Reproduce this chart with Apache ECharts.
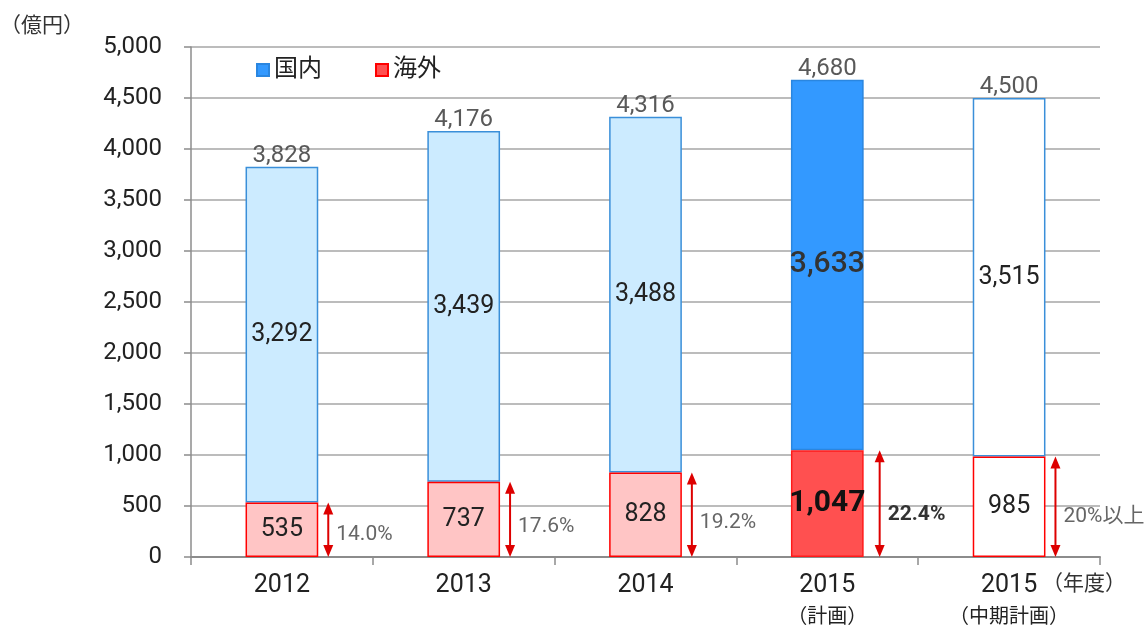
<!DOCTYPE html>
<html><head><meta charset="utf-8">
<script src="https://cdn.jsdelivr.net/npm/echarts@6/dist/echarts.min.js"></script>
<style>html,body{margin:0;padding:0;background:#fff}#c{width:1148px;height:627px}</style>
</head><body><div id="c"></div>
<script>
const years = ['2012', '2013', '2014', '2015', '2015'];
const subLabels = ['', '', '', '（計画）', '（中期計画）'];
const domestic = [3292, 3439, 3488, 3633, 3515];
const overseas = [535, 737, 828, 1047, 985];
const totals = [3828, 4176, 4316, 4680, 4500];
const shareLabels = ['14.0%', '17.6%', '19.2%', '22.4%', '20%以上'];
const yTicks = [0, 500, 1000, 1500, 2000, 2500, 3000, 3500, 4000, 4500, 5000];

const FONT = 'Roboto, "Noto Sans CJK JP", sans-serif';
const categories = years.map((y, i) => y + (subLabels[i] ? '\n' + subLabels[i] : ''));
const fmt = v => Number(v).toLocaleString('en-US');

const domStyles = [
  {color: '#CCEBFF', borderColor: '#3A8FD9'},
  {color: '#CCEBFF', borderColor: '#3A8FD9'},
  {color: '#CCEBFF', borderColor: '#3A8FD9'},
  {color: '#3399FF', borderColor: '#2A86E0'},
  {color: '#FFFFFF', borderColor: '#3A8FD9'}
];
const ovsStyles = [
  {color: '#FFC5C5', borderColor: '#FF0000'},
  {color: '#FFC5C5', borderColor: '#FF0000'},
  {color: '#FFC5C5', borderColor: '#FF0000'},
  {color: '#FF5050', borderColor: '#FF1A1A'},
  {color: '#FFFFFF', borderColor: '#FF0000'}
];

const chart = echarts.init(document.getElementById('c'), null, {renderer: 'canvas'});
const ARROW = '#DD0000';

chart.setOption({
  animation: false,
  textStyle: {fontFamily: FONT},
  grid: {left: 191, right: 48, top: 47, bottom: 70, containLabel: false, outerBoundsMode: 'none'},
  legend: {
    data: ['国内', '海外'], left: 251, top: 53, icon: 'rect',
    itemWidth: 12, itemHeight: 12, itemGap: 53,
    textStyle: {fontSize: 24, color: '#222', fontFamily: FONT}
  },
  xAxis: {
    type: 'category', data: categories,
    axisLine: {lineStyle: {color: '#8C8C8C', width: 2}},
    axisTick: {show: true, length: 8, lineStyle: {color: '#8C8C8C', width: 1.5}},
    axisLabel: {
      margin: 14, interval: 0,
      formatter: v => {
        const p = v.split('\n');
        return '{y|' + p[0] + '}' + (p[1] ? '\n{s|' + p[1] + '}' : '');
      },
      rich: {
        y: {fontSize: 25, lineHeight: 30, color: '#222', fontFamily: FONT},
        s: {fontSize: 20, lineHeight: 34, color: '#222', fontFamily: FONT}
      }
    }
  },
  yAxis: {
    type: 'value', min: yTicks[0], max: yTicks[yTicks.length - 1], interval: 500,
    axisLine: {show: true, lineStyle: {color: '#8C8C8C', width: 1.5}},
    axisTick: {show: true, length: 7, lineStyle: {color: '#8C8C8C', width: 1.5}},
    splitLine: {lineStyle: {color: '#A6A6A6', width: 1.5}},
    axisLabel: {fontSize: 24, color: '#222', margin: 29, formatter: v => fmt(v)}
  },
  series: [
    {
      name: '国内', type: 'bar', stack: 'a', barWidth: '40%', z: 2,
      stackOrder: 'seriesDesc',
      itemStyle: {color: '#3399FF', borderColor: '#2A86E0', borderWidth: 1.5},
      label: {show: true, position: 'inside', fontSize: 25, color: '#222', formatter: p => fmt(p.value)},
      data: domestic.map((v, i) => ({
        value: v,
        itemStyle: Object.assign({borderWidth: 1.5}, domStyles[i]),
        label: i === 3 ? {fontSize: 30, fontWeight: 500, color: '#333'} : undefined
      }))
    },
    {
      name: '海外', type: 'bar', stack: 'a', barWidth: '40%', z: 2,
      stackOrder: 'seriesDesc',
      itemStyle: {color: '#FF5050', borderColor: '#FF0000', borderWidth: 1.5},
      label: {show: true, position: 'inside', fontSize: 25, color: '#222', formatter: p => fmt(p.value)},
      data: overseas.map((v, i) => ({
        value: v,
        itemStyle: Object.assign({borderWidth: 1.5}, ovsStyles[i]),
        label: i === 3 ? {fontSize: 30, fontWeight: 'bold', color: '#111'} : undefined
      }))
    },
    {
      name: 'totals', type: 'custom', silent: true, clip: false, z: 5,
      data: totals.map((t, i) => [i, t]),
      renderItem: (params, api) => {
        const p = api.coord([api.value(0), api.value(1)]);
        return {type: 'text', x: p[0], y: p[1] + 1, style: {
          text: fmt(api.value(1)), fontSize: 24, fontFamily: FONT, fill: '#595959',
          align: 'center', verticalAlign: 'bottom'}};
      }
    },
    {
      name: 'share', type: 'custom', silent: true, clip: false, z: 5,
      data: overseas.map((v, i) => [i, v]),
      renderItem: (params, api) => {
        const i = api.value(0), v = api.value(1);
        const base = api.coord([i, 0]);
        const top = api.coord([i, v]);
        const bw = api.size([1, 0])[0] * 0.4;
        const x = base[0] + bw / 2 + (i === 3 ? 16 : 10);
        const hl = 12, hw = 5;
        const ly = api.coord([i, v * 0.4])[1];
        const bold = i === 3;
        return {type: 'group', children: [
          {type: 'line', shape: {x1: x, y1: top[1] + hl - 1, x2: x, y2: base[1] - hl + 1}, style: {stroke: ARROW, lineWidth: 2}},
          {type: 'polygon', shape: {points: [[x, top[1]], [x - hw, top[1] + hl], [x + hw, top[1] + hl]]}, style: {fill: ARROW}},
          {type: 'polygon', shape: {points: [[x, base[1]], [x - hw, base[1] - hl], [x + hw, base[1] - hl]]}, style: {fill: ARROW}},
          {type: 'text', x: x + 8, y: ly, style: {
            text: shareLabels[i], fontSize: 21, fontFamily: FONT,
            fontWeight: bold ? 'bold' : 'normal', fill: bold ? '#333' : '#666',
            align: 'left', verticalAlign: 'middle'}}
        ]};
      }
    }
  ],
  graphic: [
    {type: 'text', left: 0, top: 16, style: {text: '（億円）', fontSize: 21, fontFamily: FONT, fill: '#333'}},
    {type: 'text', left: 1042, top: 574, style: {text: '（年度）', fontSize: 21, fontFamily: FONT, fill: '#333'}}
  ]
});
</script>
</body></html>
